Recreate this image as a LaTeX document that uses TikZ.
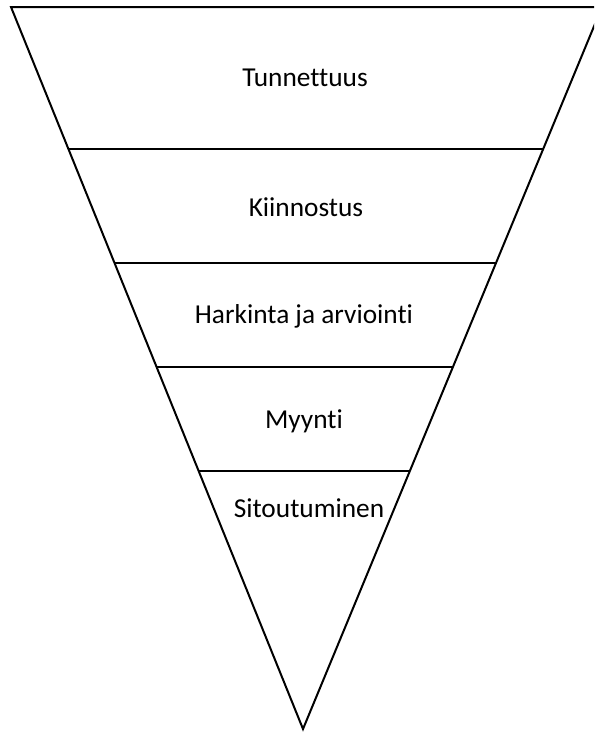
\documentclass[tikz,border=0pt]{standalone}
\usepackage{fontspec}
\setmainfont[Ligatures=NoCommon]{Carlito}
\usetikzlibrary{calc}
\begin{document}
\begin{tikzpicture}[x=0.75pt,y=-0.75pt,
  edge/.style={line width=1.5pt,line join=miter},
  stage/.style={anchor=base,inner sep=0pt,font=\fontsize{20.5}{24}\selectfont}]
\useasboundingbox (0,0) rectangle (594,733);
\clip (0,0) rectangle (594,733);
% funnel corners
\coordinate (A) at (11,7);
\coordinate (B) at (602,7);
\coordinate (C) at (303,729);
\draw[edge] (A) -- (B) -- (C) -- cycle;
% dividers between the stages
\foreach \t/\n in {0.1967/1,0.3546/2,0.4986/3,0.6427/4}{
  \coordinate (l\n) at ($(A)!\t!(C)$);
  \coordinate (r\n) at ($(B)!\t!(C)$);
  \draw[edge] (l\n) -- (r\n);
}
% stage labels
\node[stage] (s1) at (305,86) {Tunnettuus};
\node[stage] (s2) at (306,216) {Kiinnostus};
\node[stage] (s3) at (304,323) {Harkinta ja arviointi};
\node[stage] (s4) at (304,428) {Myynti};
\node[stage] (s5) at (309,517) {Sitoutuminen};
\end{tikzpicture}
\end{document}
